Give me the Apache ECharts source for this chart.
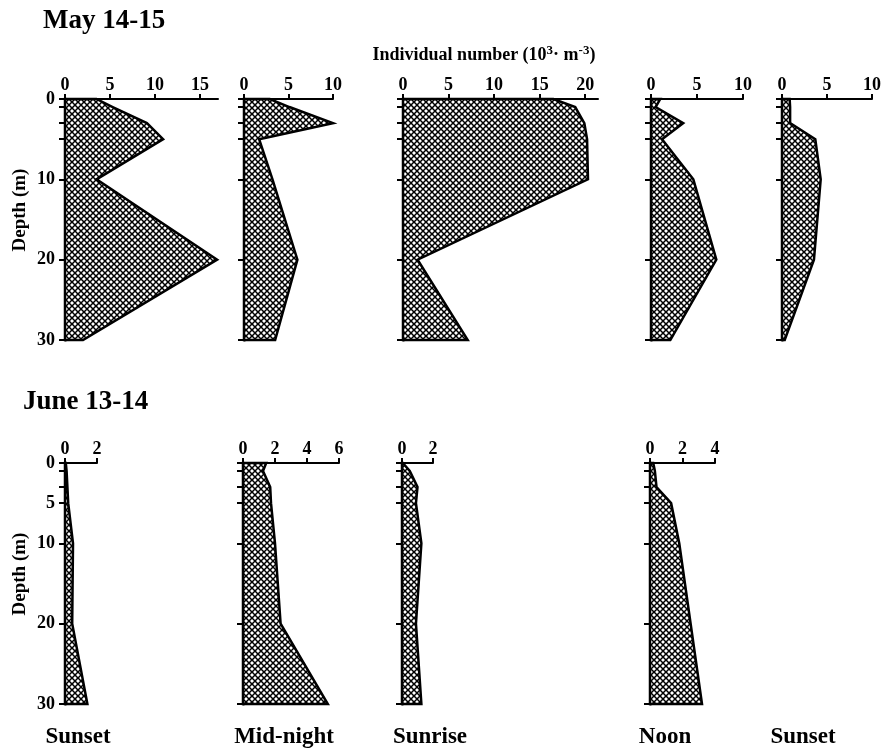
<!DOCTYPE html>
<html>
<head>
<meta charset="utf-8">
<script src="https://cdn.jsdelivr.net/npm/echarts@6/dist/echarts.min.js"></script>
<style>
html,body{margin:0;padding:0;background:#fff}
#main{width:884px;height:748px}
</style>
</head>
<body>
<div id="main"></div>
<script>
// ---- depths sampled (m)
var depths = [0, 1, 3, 5, 10, 20, 30];
var depthTicks = [0, 1, 3, 5, 10, 20, 30];
var mayDepthLabels = [0, 10, 20, 30];
var junDepthLabels = [0, 5, 10, 20, 30];

// ---- May 14-15, individual number (10^3 m^-3)
var maySunset   = [3.5, 5.3, 9.1, 10.9, 3.5, 16.9, 2.0];
var mayMidnight = [2.9, 5.1, 10.0, 1.7, 3.2, 6.0, 3.5];
var maySunrise  = [16.5, 18.9, 19.9, 20.2, 20.3, 1.6, 7.1];
var mayNoon     = [1.0, 0.5, 3.5, 1.2, 4.6, 7.1, 2.1];
var maySunset2  = [0.85, 0.9, 0.9, 3.7, 4.3, 3.55, 0.3];

// ---- June 13-14
var junSunset   = [0.05, 0.1, 0.15, 0.2, 0.5, 0.45, 1.4];
var junMidnight = [1.45, 1.25, 1.7, 1.75, 2.0, 2.35, 5.3];
var junSunrise  = [0.05, 0.5, 1.0, 0.9, 1.25, 0.9, 1.25];
var junNoon     = [0.2, 0.3, 0.4, 1.3, 1.8, 2.5, 3.2];

// ---- x tick labels per panel
var mayTicks = [[0, 5, 10, 15], [0, 5, 10], [0, 5, 10, 15, 20], [0, 5, 10], [0, 5, 10]];
var junTicks = [[0, 2], [0, 2, 4, 6], [0, 2], [0, 2, 4]];

var FONT = '"Liberation Serif", "Times New Roman", serif';

// cross hatch fill
var cv = document.createElement('canvas');
cv.width = 6; cv.height = 6;
var cx = cv.getContext('2d');
cx.fillStyle = '#fff'; cx.fillRect(0, 0, 6, 6);
cx.strokeStyle = '#000'; cx.lineWidth = 1.5;
cx.beginPath();
cx.moveTo(-1, -1); cx.lineTo(7, 7);
cx.moveTo(7, -1); cx.lineTo(-1, 7);
cx.stroke();
var hatch = {image: cv, repeat: 'repeat'};

// panel layout: data, ticks, axis max, left, width, top, y labels
var panels = [
    {vals: maySunset,   ticks: mayTicks[0], max: 17,   left: 65,  width: 153, top: 99,  yl: mayDepthLabels},
    {vals: mayMidnight, ticks: mayTicks[1], max: 10,   left: 244, width: 89,  top: 99},
    {vals: maySunrise,  ticks: mayTicks[2], max: 21.4, left: 403, width: 195, top: 99},
    {vals: mayNoon,     ticks: mayTicks[3], max: 10,   left: 651, width: 92,  top: 99},
    {vals: maySunset2,  ticks: mayTicks[4], max: 10,   left: 782, width: 91,  top: 99},
    {vals: junSunset,   ticks: junTicks[0], max: 2,    left: 65,  width: 32,  top: 463, yl: junDepthLabels},
    {vals: junMidnight, ticks: junTicks[1], max: 6,    left: 243, width: 96,  top: 463},
    {vals: junSunrise,  ticks: junTicks[2], max: 2,    left: 402, width: 31,  top: 463},
    {vals: junNoon,     ticks: junTicks[3], max: 4,    left: 650, width: 65,  top: 463}
];

function profileItem(vals) {
    return function (params, api) {
        if (params.dataIndex !== 0) return null;
        var pts = [api.coord([0, depths[0]])];
        for (var i = 0; i < depths.length; i++) {
            pts.push(api.coord([vals[i], depths[i]]));
        }
        pts.push(api.coord([0, depths[depths.length - 1]]));
        return {
            type: 'polygon',
            shape: {points: pts},
            style: {fill: hatch, stroke: '#000', lineWidth: 2.5, lineJoin: 'miter'}
        };
    };
}

var grid = [], xAxis = [], yAxis = [], series = [];
panels.forEach(function (p, k) {
    grid.push({left: p.left, top: p.top, width: p.width, height: 241});
    xAxis.push({
        type: 'value', gridIndex: k, position: 'top', min: 0, max: p.max,
        axisLine: {show: true, onZero: false, lineStyle: {color: '#000', width: 2}},
        axisTick: {show: true, length: 5, customValues: p.ticks, lineStyle: {color: '#000', width: 2}},
        axisLabel: {customValues: p.ticks, margin: 5, color: '#000', fontFamily: FONT, fontWeight: 'bold', fontSize: 18},
        splitLine: {show: false}
    });
    yAxis.push({
        type: 'value', gridIndex: k, inverse: true, min: 0, max: 30,
        axisLine: {show: true, onZero: false, lineStyle: {color: '#000', width: 3}},
        axisTick: {show: true, length: 6, customValues: depthTicks, lineStyle: {color: '#000', width: 2}},
        axisLabel: {show: !!p.yl, customValues: p.yl || [], margin: 10, color: '#000', fontFamily: FONT, fontWeight: 'bold', fontSize: 18},
        splitLine: {show: false}
    });
    series.push({
        type: 'custom', xAxisIndex: k, yAxisIndex: k,
        data: depths.map(function (d, i) { return [p.vals[i], d]; }),
        encode: {x: 0, y: 1},
        renderItem: profileItem(p.vals),
        silent: true, z: 1
    });
});

function txt(s, x, y, size, align, extra) {
    var o = {
        type: 'text', x: x, y: y, silent: true,
        style: {text: s, fill: '#000', font: 'bold ' + size + 'px ' + FONT, align: align || 'center', verticalAlign: 'middle'}
    };
    if (extra) for (var key in extra) o[key] = extra[key];
    return o;
}

var graphic = [
    txt('May 14-15', 43, 21, 27, 'left'),
    txt('June 13-14', 23, 402, 27, 'left'),
    {
        type: 'text', x: 484, y: 55, silent: true,
        style: {
            text: 'Individual number (10{s|3}· m{s|-3})',
            fill: '#000', font: 'bold 18px ' + FONT, align: 'center', verticalAlign: 'middle',
            rich: {s: {fontFamily: FONT, fontWeight: 'bold', fontSize: 13, verticalAlign: 'top', padding: [0, 0, 8, 0]}}
        }
    },
    txt('Depth (m)', 20, 210, 19, 'center', {rotation: Math.PI / 2}),
    txt('Depth (m)', 20, 574, 19, 'center', {rotation: Math.PI / 2}),
    txt('Sunset', 78, 737, 23),
    txt('Mid-night', 284, 737, 23),
    txt('Sunrise', 430, 737, 23),
    txt('Noon', 665, 737, 23),
    txt('Sunset', 803, 737, 23)
];

var myChart = echarts.init(document.getElementById('main'));
myChart.setOption({
    backgroundColor: '#fff',
    animation: false,
    grid: grid,
    xAxis: xAxis,
    yAxis: yAxis,
    series: series,
    graphic: graphic
});
</script>
</body>
</html>
